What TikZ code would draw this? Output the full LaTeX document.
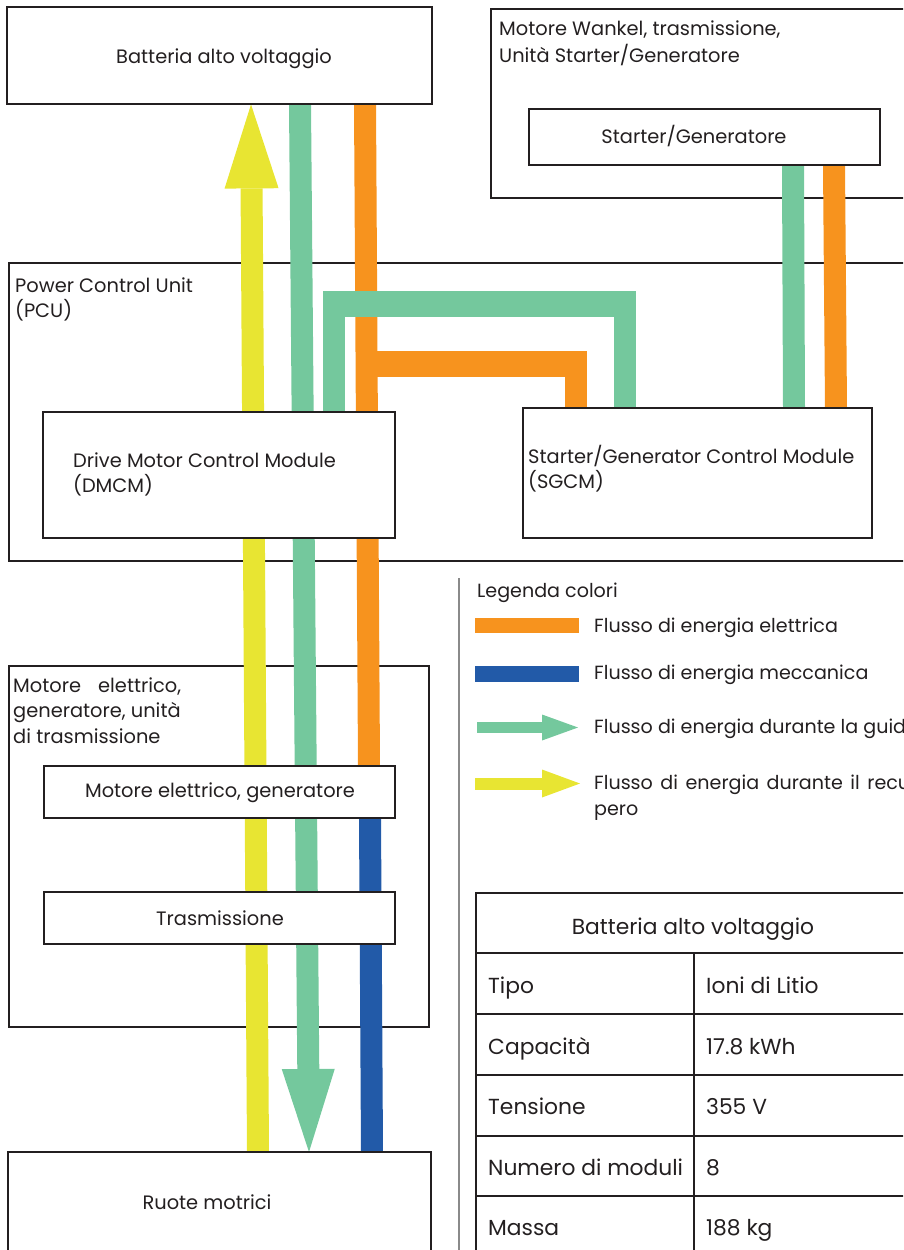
\documentclass[tikz,border=0pt]{standalone}
\usepackage{fontspec}
\setmainfont{Poppins}
\usetikzlibrary{arrows.meta}
\definecolor{cyel}{HTML}{E8E532}
\definecolor{cgrn}{HTML}{74C89D}
\definecolor{corg}{HTML}{F7931E}
\definecolor{cblu}{HTML}{225AA8}
\definecolor{cink}{HTML}{231F20}
\definecolor{cgray}{HTML}{8A8A8A}
\begin{document}
\begin{tikzpicture}[x=1pt,y=-1pt,
  frame/.style={draw=cink, line width=2pt, inner sep=0pt, anchor=north west},
  box/.style={frame, fill=white},
  txt/.style={font=\fontsize{19.4}{23}\selectfont, text=cink, inner sep=0pt},
  legtxt/.style={font=\fontsize{19.1}{23}\selectfont, text=cink, inner sep=0pt, anchor=base west},
  tabtxt/.style={font=\fontsize{21.8}{26}\selectfont, text=cink, inner sep=0pt, anchor=base west},
  flow/.style={line width=22pt},
  wide/.style={line width=26pt},
  bighead/.style={-{Triangle[width=54pt,length=84pt,line width=0pt]}},
  tabline/.style={draw=cink, line width=2pt},
]
\useasboundingbox (0,0) rectangle (903,1250);
\clip (0,0) rectangle (903,1250);

% outer frames
\node[frame, minimum width=420pt, minimum height=189pt] (wankel) at (490,8) {};
\node[frame, minimum width=902pt, minimum height=298pt] (pcu) at (8,262) {};
\node[frame, minimum width=420pt, minimum height=361pt] (meunit) at (8,665) {};

% inner box placeholders (for names), drawn later
\path (7,7) node[inner sep=0pt, anchor=north west, minimum width=425pt, minimum height=97pt] (batt) {};
\path (529,109) node[inner sep=0pt, anchor=north west, minimum width=351pt, minimum height=56pt] (stgen) {};
\path (43,412) node[inner sep=0pt, anchor=north west, minimum width=352pt, minimum height=126pt] (dmcm) {};
\path (523,408) node[inner sep=0pt, anchor=north west, minimum width=349pt, minimum height=130pt] (sgcm) {};
\path (44,766) node[inner sep=0pt, anchor=north west, minimum width=351pt, minimum height=52pt] (motor) {};
\path (44,892) node[inner sep=0pt, anchor=north west, minimum width=351pt, minimum height=52pt] (trasm) {};
\path (8,1152) node[inner sep=0pt, anchor=north west, minimum width=423pt, minimum height=130pt] (ruote) {};

% branch corner points
\coordinate (ob1) at (366,364);
\coordinate (ob2) at (587,364);
\coordinate (ob3) at (576,351);
\coordinate (gb1) at (334,291);
\coordinate (gb2) at (323,304);
\coordinate (gb3) at (636,304);
\coordinate (gb4) at (625,291);

% flows
\draw[flow, corg] (batt.south -| 365,0) -- (motor.north -| 369,0);
\draw[wide, corg] (ob1) -- (ob2);
\draw[flow, corg] (ob3) -- (sgcm.north -| ob3);
\draw[flow, cblu] (motor.south -| 370,0) -- (ruote.north -| 372,0);
\draw[flow, cgrn] (dmcm.north -| gb1) -- (gb1);
\draw[wide, cgrn] (gb2) -- (gb3);
\draw[flow, cgrn] (gb4) -- (sgcm.north -| gb4);
\draw[flow, cgrn] (stgen.south -| 793,0) -- (sgcm.north -| 794,0);
\draw[flow, corg] (stgen.south -| 834,0) -- (sgcm.north -| 836,0);
\draw[flow, cgrn, -{Triangle[width=53pt,length=83pt,line width=0pt]}] (batt.south -| 300,0) -- (ruote.north -| 309,0);
\draw[flow, cyel, bighead] (ruote.north -| 258,0) -- (batt.south -| 251,0);

% inner boxes on top
\draw[box] (batt.north west) rectangle (batt.south east);
\draw[box] (stgen.north west) rectangle (stgen.south east);
\draw[box] (dmcm.north west) rectangle (dmcm.south east);
\draw[box] (sgcm.north west) rectangle (sgcm.south east);
\draw[box] (motor.north west) rectangle (motor.south east);
\draw[box] (trasm.north west) rectangle (trasm.south east);
\draw[box] (ruote.north west) rectangle (ruote.south east);

% texts
\node[txt, anchor=base] (tbatt) at (224,63) {Batteria alto voltaggio};
\node[txt, anchor=base west] (tw1) at (499,35) {Motore Wankel, trasmissione,};
\node[txt, anchor=base west] (tw2) at (499,62) {Unità Starter/Generatore};
\node[txt, anchor=base] (tstg) at (694,143) {Starter/Generatore};
\node[txt, anchor=base west] (tp1) at (15,292) {Power Control Unit};
\node[txt, anchor=base west] (tp2) at (15,317) {(PCU)};
\node[txt, anchor=base west] (td1) at (73,467) {Drive Motor Control Module};
\node[txt, anchor=base west] (td2) at (73,492) {(DMCM)};
\node[txt, anchor=base west] (ts1) at (528,463) {Starter/Generator Control Module};
\node[txt, anchor=base west] (ts2) at (528,488) {(SGCM)};
\node[txt, anchor=base west] (tm1) at (13,692) {\makebox[168pt][s]{Motore elettrico,}};
\node[txt, anchor=base west] (tm2) at (13,717) {generatore, unità};
\node[txt, anchor=base west] (tm3) at (13,743) {di trasmissione};
\node[txt, anchor=base] (tmot) at (220,797) {Motore elettrico, generatore};
\node[txt, anchor=base] (ttr) at (220,925) {Trasmissione};
\node[txt, anchor=base] (tru) at (207,1209) {Ruote motrici};

% legend
\draw[cgray, line width=1.5pt] (459,578) -- (459,1252);
\node[legtxt] (leg) at (477,597) {Legenda colori};
\fill[corg] (475,618) rectangle (579,633);
\node[legtxt] (l1) at (594,632) {Flusso di energia elettrica};
\fill[cblu] (475,666) rectangle (579,682);
\node[legtxt] (l2) at (594,679) {Flusso di energia meccanica};
\coordinate (ga) at (477,727.5);
\coordinate (gb) at (578,727.5);
\draw[cgrn, line width=11pt, -{Triangle[width=26pt,length=36pt,line width=0pt]}] (ga) -- (gb);
\node[legtxt] (l3) at (594,733) {Flusso di energia durante la guida};
\coordinate (ya) at (475,783.5);
\coordinate (yb) at (580,783.5);
\draw[cyel, line width=12pt, -{Triangle[width=28pt,length=38pt,line width=0pt]}] (ya) -- (yb);
\node[legtxt] (l4) at (594,789) {\makebox[316pt][s]{Flusso di energia durante il recu}};
\node[legtxt] (l5) at (594,815) {pero};

% table
\draw[tabline] (476,893) rectangle (912,1262);
\foreach \yy in {953,1014,1075,1136,1196} \draw[tabline] (476,\yy) -- (912,\yy);
\draw[tabline] (694,953) -- (694,1262);
\node[tabtxt, anchor=base] (th) at (693,934) {Batteria alto voltaggio};
\node[tabtxt] (r1a) at (488,993) {Tipo};
\node[tabtxt] (r1b) at (706,993) {Ioni di Litio};
\node[tabtxt] (r2a) at (488,1054) {Capacità};
\node[tabtxt] (r2b) at (706,1054) {17.8 kWh};
\node[tabtxt] (r3a) at (488,1114) {Tensione};
\node[tabtxt] (r3b) at (706,1114) {355 V};
\node[tabtxt] (r4a) at (488,1175) {Numero di moduli};
\node[tabtxt] (r4b) at (706,1175) {8};
\node[tabtxt] (r5a) at (488,1235) {Massa};
\node[tabtxt] (r5b) at (706,1235) {188 kg};
\end{tikzpicture}
\end{document}
